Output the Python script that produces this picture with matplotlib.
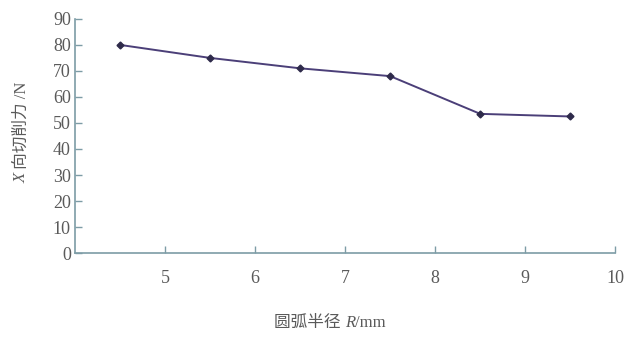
import matplotlib
matplotlib.use("Agg")
import matplotlib.pyplot as plt

radius = [4.5, 5.5, 6.5, 7.5, 8.5, 9.5]
force = [80, 75, 71, 68, 53.5, 52.5]
x_ticks = [5, 6, 7, 8, 9, 10]
y_ticks = [0, 10, 20, 30, 40, 50, 60, 70, 80, 90]

# label pieces: (text, italic?)
x_label = [("圆弧半径 ", False), ("R", True), ("/mm", False)]
y_label = [("X", True), (" 向切削力 /N", False)]

plt.rcParams["font.family"] = ["Liberation Serif", "Noto Sans CJK SC"]

axis_color = "#7d9ca6"
text_color = "#5a5a5a"

fig = plt.figure(figsize=(6.35, 3.37), dpi=100)
ax = fig.add_axes([0.118, 0.249, 0.851, 0.695])

ax.plot(radius, force, color="#4b3f78", linewidth=1.4,
        marker="D", markersize=3.5, markerfacecolor="#2e2a4a",
        markeredgecolor="#2e2a4a")

ax.set_xlim(4, 10)
ax.set_ylim(0, 90)
ax.set_xticks(x_ticks)
ax.set_yticks(y_ticks)

for side in ["top", "right"]:
    ax.spines[side].set_visible(False)
for side in ["left", "bottom"]:
    ax.spines[side].set_color(axis_color)
    ax.spines[side].set_linewidth(1.2)

ax.tick_params(direction="in", length=5, width=1, color=axis_color,
               labelcolor=text_color, labelsize=13)
ax.tick_params(axis="x", pad=12)
ax.tick_params(axis="y", pad=3)


def place_label(pieces, cx, cy, rotation):
    # put text pieces one after another, centred on (cx, cy) in pixels
    renderer = fig.canvas.get_renderer()
    texts = []
    for s, italic in pieces:
        t = fig.text(0, 0, s, fontsize=12, color=text_color,
                     style="italic" if italic else "normal",
                     rotation=rotation, transform=None,
                     ha="left", va="center", rotation_mode="anchor")
        texts.append(t)
    sizes = []
    for t in texts:
        bb = t.get_window_extent(renderer)
        sizes.append(bb.width if rotation == 0 else bb.height)
    pos = -sum(sizes) / 2
    for t, s in zip(texts, sizes):
        if rotation == 0:
            t.set_position((cx + pos, cy))
        else:
            t.set_position((cx, cy + pos))
        pos += s


place_label(x_label, 330, 14, 0)
place_label(y_label, 22, 205, 90)

fig.savefig("out.png", dpi=100)
